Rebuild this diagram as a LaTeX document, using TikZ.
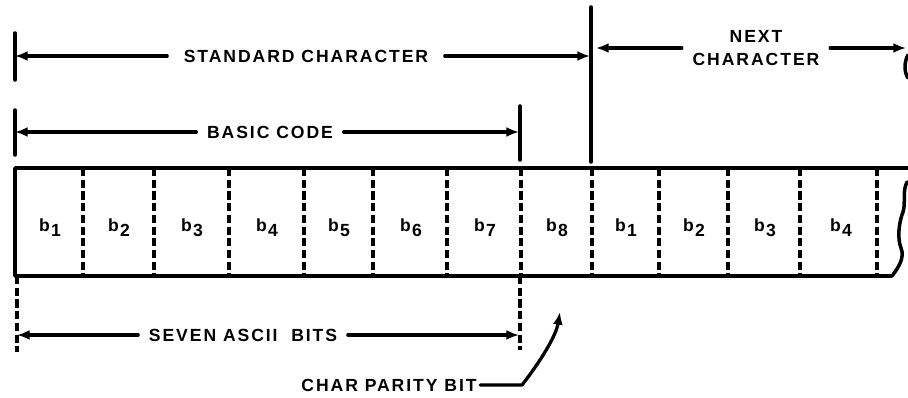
\documentclass[tikz,border=0pt]{standalone}
\usepackage{fontspec}
\usetikzlibrary{arrows.meta}
\newfontfamily\lettering[LetterSpace=11]{Liberation Sans}
\newcommand{\bitlabel}[1]{b\kern1pt\raisebox{-0.55ex}{#1}}

\begin{document}
\begin{tikzpicture}[x=0.03cm, y=-0.03cm, >={Latex[length=3.8mm, width=3mm]},
    line cap=round, line join=round,
    lettered/.style={font={\lettering\bfseries\fontsize{15}{19}\selectfont},
      inner xsep=9pt, inner ysep=2pt},
    dimline/.style={->, line width=2.8pt},
    bar/.style={line width=3pt},
    divider/.style={line width=3pt, line cap=butt, dash pattern=on 7pt off 3pt}]

    \useasboundingbox (0,0) rectangle (908,398);

    % --- the tape, cut off at the right
    \pgfmathsetmacro{\ytop}{168}
    \pgfmathsetmacro{\ybot}{276}
    \draw[bar] (908,\ytop) -- (15,\ytop) -- (15,\ybot) -- (892,\ybot)
      .. controls (898,268) and (905,258) .. (901,248)
      .. controls (897,238) and (899,222) .. (903,212)
      .. controls (906,202) and (902,192) .. (907,182);
    \foreach \xd in {83, 154, 229, 304, 373, 447, 521, 592, 659, 728, 800, 877} {
      \draw[divider] (\xd,\ytop) -- (\xd,\ybot);
    }

    % --- the bits of this character and of the next one
    \foreach \xc/\n/\nm in {50/1/bit1, 119/2/bit2, 192/3/bit3, 267/4/bit4,
        339/5/bit5, 411/6/bit6, 485/7/bit7, 557/8/bit8,
        626/1/next1, 694/2/next2, 765/3/next3, 841/4/next4} {
      \node[lettered, inner xsep=0pt] (\nm) at (\xc,228) {\bitlabel{\n}};
    }

    % --- the end bars above the tape
    \draw[bar] (15,33) -- (15,80);
    \draw[bar] (15,110) -- (15,155);
    \draw[bar] (591,7) -- (591,162);
    \draw[bar] (520,106) -- (520,160);
    \draw[bar] (908,55) .. controls (904,62) and (904,72) .. (908,78);

    % --- standard character
    \node[lettered, inner xsep=14pt] (std) at (306,56) {STANDARD CHARACTER};
    \coordinate (std l) at (15,56);
    \coordinate (std r) at (590,56);
    \draw[dimline] (std) -- (std l);
    \draw[dimline] (std) -- (std r);

    % --- next character
    \node[lettered, align=center] (nxt) at (756,48) {NEXT\\CHARACTER};
    \coordinate (nxt l) at (596,48);
    \coordinate (nxt r) at (906,48);
    \draw[dimline] (nxt) -- (nxt l);
    \draw[dimline] (nxt) -- (nxt r);

    % --- basic code
    \node[lettered] (basic) at (270,132) {BASIC CODE};
    \coordinate (basic l) at (15,132);
    \coordinate (basic r) at (519,132);
    \draw[dimline] (basic) -- (basic l);
    \draw[dimline] (basic) -- (basic r);

    % --- seven ascii bits, below the tape
    \draw[divider] (17,\ybot) -- (17,352);
    \draw[divider] (520,\ybot) -- (520,350);
    \node[lettered] (seven) at (243,335) {SEVEN ASCII\ \ BITS};
    \coordinate (seven l) at (17,335);
    \coordinate (seven r) at (519,335);
    \draw[dimline] (seven) -- (seven l);
    \draw[dimline] (seven) -- (seven r);

    % --- the parity bit
    \node[lettered, inner xsep=3pt] (parity) at (389,385) {CHAR PARITY BIT};
    \coordinate (parity bend) at (522,385);
    \coordinate (parity tip) at (560,312);
    \draw[dimline] (parity) -- (parity bend)
      .. controls (540,362) and (556,336) .. (parity tip);
  \end{tikzpicture}
\end{document}
